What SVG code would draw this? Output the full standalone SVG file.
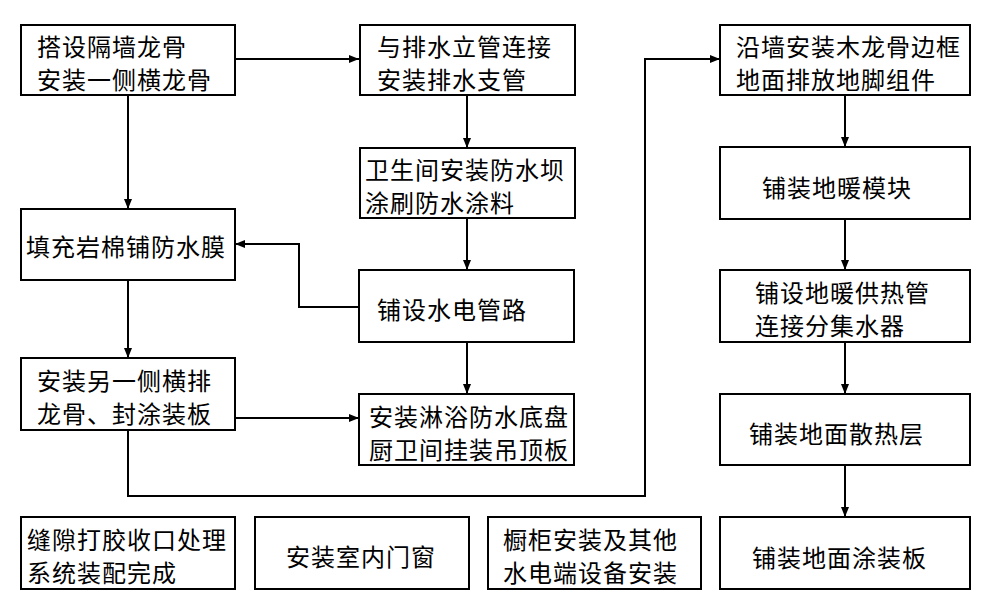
<svg xmlns="http://www.w3.org/2000/svg" width="990" height="611" viewBox="0 0 990 611">
<style>
.b{fill:#fff;stroke:#000;stroke-width:2}
.t{font-family:"Noto Sans CJK SC","Liberation Sans",sans-serif;font-size:24px;fill:#000;dominant-baseline:central;letter-spacing:1px}
.c{fill:none;stroke:#000;stroke-width:2}
</style>
<defs>
<marker id="a" markerWidth="10" markerHeight="8" refX="10" refY="4" orient="auto" markerUnits="userSpaceOnUse">
<path d="M0,0 L10,4 L0,8 Z" fill="#000"/>
</marker>
</defs>
<rect width="990" height="611" fill="#fff"/>
<g id="connectors">
<path class="c" d="M235,59 H359" marker-end="url(#a)"/>
<path class="c" d="M128,95 V209" marker-end="url(#a)"/>
<path class="c" d="M128,280 V358" marker-end="url(#a)"/>
<path class="c" d="M467,95 V148" marker-end="url(#a)"/>
<path class="c" d="M467,218 V270" marker-end="url(#a)"/>
<path class="c" d="M467,342 V394" marker-end="url(#a)"/>
<path class="c" d="M359,307 H299 V244 H235" marker-end="url(#a)"/>
<path class="c" d="M235,418 H359" marker-end="url(#a)"/>
<path class="c" d="M128,430 V496 H645 V59 H720" marker-end="url(#a)"/>
<path class="c" d="M845,95 V147" marker-end="url(#a)"/>
<path class="c" d="M845,219 V270" marker-end="url(#a)"/>
<path class="c" d="M845,342 V394" marker-end="url(#a)"/>
<path class="c" d="M845,465 V517" marker-end="url(#a)"/>
</g>
<g id="n1"><rect class="b" x="21" y="25" width="214" height="70"/><text class="t" x="37" y="45">搭设隔墙龙骨</text><text class="t" x="37" y="78">安装一侧横龙骨</text></g>
<g id="n2"><rect class="b" x="360" y="25" width="215" height="70"/><text class="t" x="377" y="45">与排水立管连接</text><text class="t" x="377" y="78">安装排水支管</text></g>
<g id="n3"><rect class="b" x="360" y="148" width="215" height="70"/><text class="t" x="365" y="168">卫生间安装防水坝</text><text class="t" x="365" y="201">涂刷防水涂料</text></g>
<g id="n4"><rect class="b" x="21" y="209" width="214" height="71"/><text class="t" x="26" y="245">填充岩棉铺防水膜</text></g>
<g id="n5"><rect class="b" x="359" y="270" width="215" height="72"/><text class="t" x="377" y="308">铺设水电管路</text></g>
<g id="n6"><rect class="b" x="21" y="358" width="214" height="72"/><text class="t" x="37" y="379">安装另一侧横排</text><text class="t" x="37" y="412">龙骨、封涂装板</text></g>
<g id="n7"><rect class="b" x="359" y="394" width="215" height="71"/><text class="t" x="369" y="415">安装淋浴防水底盘</text><text class="t" x="369" y="448">厨卫间挂装吊顶板</text></g>
<g id="n8"><rect class="b" x="720" y="25" width="250" height="70"/><text class="t" x="736" y="45">沿墙安装木龙骨边框</text><text class="t" x="736" y="78">地面排放地脚组件</text></g>
<g id="n9"><rect class="b" x="720" y="147" width="250" height="72"/><text class="t" x="762" y="186">铺装地暖模块</text></g>
<g id="n10"><rect class="b" x="720" y="270" width="250" height="72"/><text class="t" x="755" y="291">铺设地暖供热管</text><text class="t" x="755" y="324">连接分集水器</text></g>
<g id="n11"><rect class="b" x="720" y="394" width="250" height="71"/><text class="t" x="749" y="432">铺装地面散热层</text></g>
<g id="n12"><rect class="b" x="720" y="517" width="250" height="72"/><text class="t" x="752" y="556">铺装地面涂装板</text></g>
<g id="n13"><rect class="b" x="21" y="517" width="214" height="72"/><text class="t" x="27" y="538">缝隙打胶收口处理</text><text class="t" x="27" y="571">系统装配完成</text></g>
<g id="n14"><rect class="b" x="255" y="517" width="214" height="72"/><text class="t" x="286" y="555">安装室内门窗</text></g>
<g id="n15"><rect class="b" x="488" y="517" width="213" height="72"/><text class="t" x="503" y="538">橱柜安装及其他</text><text class="t" x="503" y="571">水电端设备安装</text></g>
</svg>
